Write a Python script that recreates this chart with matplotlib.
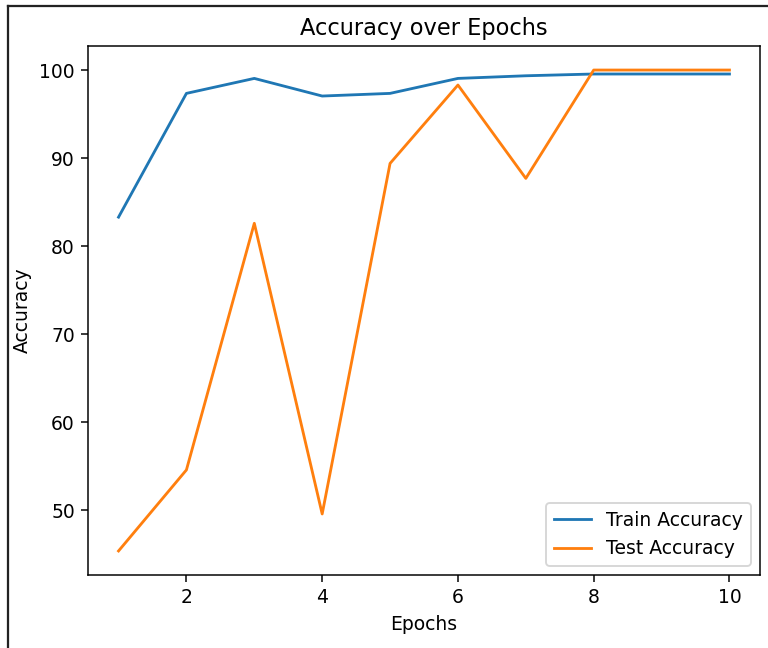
import matplotlib.pyplot as plt
from matplotlib.lines import Line2D

# accuracy per epoch
epochs = [1, 2, 3, 4, 5, 6, 7, 8, 9, 10]
train_acc = [83.3, 97.35, 99.05, 97.05, 97.35, 99.05, 99.35, 99.55, 99.55, 99.55]
test_acc = [45.4, 54.6, 82.6, 49.6, 89.4, 98.3, 87.7, 100.0, 100.0, 100.0]

DPI = 135
fig = plt.figure(figsize=(768 / DPI, 648 / DPI), dpi=DPI)
ax = fig.add_axes([88 / 768, (648 - 575) / 648, 672 / 768, 529 / 648])

ax.plot(epochs, train_acc, label='Train Accuracy')
ax.plot(epochs, test_acc, label='Test Accuracy')

ax.set_title('Accuracy over Epochs')
ax.set_xlabel('Epochs')
ax.set_ylabel('Accuracy')
ax.legend(loc='lower right')

# window frame around the figure (left and top edges)
fig.add_artist(Line2D([8 / 768, 8 / 768], [0, 1 - 6 / 648], transform=fig.transFigure,
                      color='#222222', lw=1.2))
fig.add_artist(Line2D([8 / 768, 1], [1 - 6 / 648, 1 - 6 / 648], transform=fig.transFigure,
                      color='#222222', lw=1.2))

fig.savefig('out.png', dpi=DPI)
